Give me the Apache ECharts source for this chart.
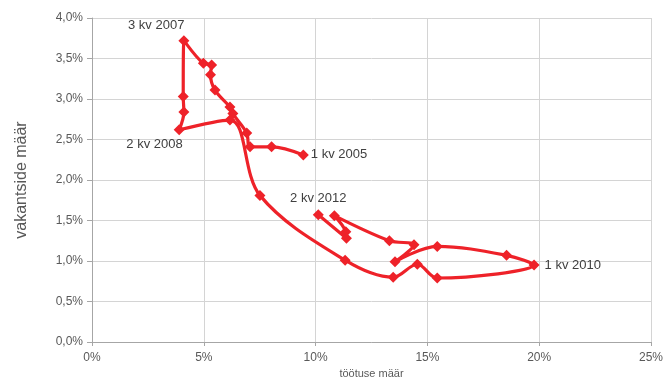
<!DOCTYPE html>
<html>
<head>
<meta charset="utf-8">
<script src="https://cdn.jsdelivr.net/npm/echarts@6/dist/echarts.min.js"></script>
<style>
  html, body { margin: 0; padding: 0; background: #fff; }
  #chart { width: 663px; height: 379px; }
</style>
</head>
<body>
<div id="chart"></div>
<script>
// Quarterly unemployment rate (%) vs job vacancy rate (%), 2005 Q1 – 2012 Q2
const quarters = [
  '1 kv 2005', '2 kv 2005', '3 kv 2005', '4 kv 2005',
  '1 kv 2006', '2 kv 2006', '3 kv 2006', '4 kv 2006',
  '1 kv 2007', '2 kv 2007', '3 kv 2007', '4 kv 2007',
  '1 kv 2008', '2 kv 2008', '3 kv 2008', '4 kv 2008',
  '1 kv 2009', '2 kv 2009', '3 kv 2009', '4 kv 2009',
  '1 kv 2010', '2 kv 2010', '3 kv 2010', '4 kv 2010',
  '1 kv 2011', '2 kv 2011', '3 kv 2011', '4 kv 2011',
  '1 kv 2012', '2 kv 2012'
];
const unemployment = [
  9.45, 8.03, 7.07, 6.92,
  6.30, 6.17, 5.50, 5.30,
  5.35, 4.98, 4.11, 4.08,
  4.11, 3.90, 6.17, 7.51,
  11.32, 13.47, 14.55, 15.44,
  19.77, 18.54, 15.44, 13.55,
  14.40, 13.30, 10.84, 11.35,
  11.38, 10.12
];
const vacancies = [
  2.31, 2.41, 2.41, 2.58,
  2.82, 2.90, 3.11, 3.30,
  3.42, 3.44, 3.72, 3.03,
  2.84, 2.62, 2.74, 1.81,
  1.01, 0.80, 0.96, 0.79,
  0.95, 1.07, 1.18, 0.99,
  1.20, 1.25, 1.56, 1.36,
  1.28, 1.57
];
const xTicks = [0, 5, 10, 15, 20, 25];
const yTicks = [0, 0.5, 1, 1.5, 2, 2.5, 3, 3.5, 4];

// quarters that carry a text label, with where the label sits
const labelled = {
  '1 kv 2005': { position: 'right', distance: 2 },
  '3 kv 2007': { position: 'left', offset: [8, -15], distance: 2 },
  '2 kv 2008': { position: 'left', offset: [13, 15], distance: 4 },
  '1 kv 2010': { position: 'right', distance: 5 },
  '2 kv 2012': { position: 'top', distance: 4 }
};

const RED = '#EE2229';
const FONT = 'Liberation Sans, Arial, sans-serif';
const data = quarters.map((q, i) => {
  const item = { name: q, value: [unemployment[i], vacancies[i]] };
  if (labelled[q]) {
    item.label = Object.assign({
      show: true,
      formatter: q,
      color: '#404040',
      fontSize: 13,
      fontFamily: FONT
    }, labelled[q]);
  }
  return item;
});

const chart = echarts.init(document.getElementById('chart'), null, { renderer: 'canvas' });
const axisFont = { color: '#595959', fontSize: 12, fontFamily: FONT };

chart.setOption({
  animation: false,
  grid: { left: 92, right: 12, top: 18, bottom: 37, containLabel: false, outerBoundsMode: 'none' },
  xAxis: {
    type: 'value',
    min: xTicks[0], max: xTicks[xTicks.length - 1], interval: 5,
    name: 'töötuse määr',
    nameLocation: 'middle',
    nameGap: 26,
    nameTextStyle: { color: '#595959', fontSize: 11, fontFamily: FONT },
    axisLine: { show: true, lineStyle: { color: '#A6A6A6', width: 1 } },
    axisTick: { show: true, length: 4, lineStyle: { color: '#A6A6A6' } },
    axisLabel: Object.assign({ margin: 10, formatter: v => v + '%' }, axisFont),
    splitLine: { show: true, lineStyle: { color: '#D4D4D4', width: 1 } }
  },
  yAxis: {
    type: 'value',
    min: yTicks[0], max: yTicks[yTicks.length - 1], interval: 0.5,
    name: 'vakantside määr',
    nameLocation: 'middle',
    nameGap: 62,
    nameRotate: 90,
    nameTextStyle: { color: '#595959', fontSize: 16, fontFamily: FONT },
    axisLine: { show: true, lineStyle: { color: '#A6A6A6', width: 1 } },
    axisTick: { show: true, length: 5, lineStyle: { color: '#A6A6A6' } },
    axisLabel: Object.assign({ margin: 9, formatter: v => v.toFixed(1).replace('.', ',') + '%' }, axisFont),
    splitLine: { show: true, lineStyle: { color: '#D4D4D4', width: 1 } }
  },
  series: [{
    type: 'line',
    data: data,
    smooth: 0.35,
    symbol: 'diamond',
    symbolSize: 11,
    lineStyle: { color: RED, width: 3.2 },
    itemStyle: { color: RED },
    label: { show: false },
    z: 3
  }]
});
</script>
</body>
</html>
